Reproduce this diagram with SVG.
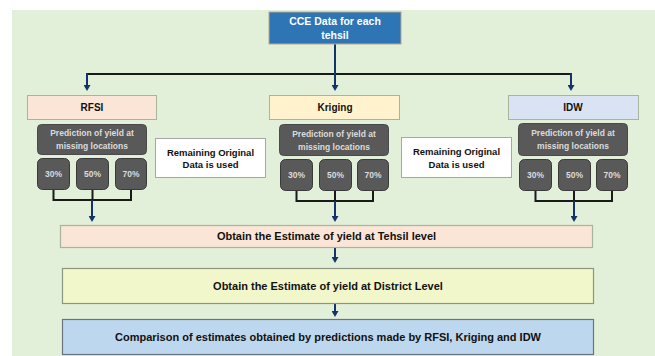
<svg xmlns="http://www.w3.org/2000/svg" width="655" height="356" viewBox="0 0 655 356">
  <defs>
    <marker id="arrow" viewBox="0 0 6 7" markerWidth="6" markerHeight="7" refX="1" refY="3.5" orient="auto" markerUnits="userSpaceOnUse">
      <path d="M0,0 L6,3.5 L0,7 z" fill="#12336b"/>
    </marker>
    <style>
      text { font-family: "Liberation Sans", Arial, sans-serif; font-weight: bold; text-anchor: middle; }
      .method { stroke: #a7b69a; stroke-width: 1; }
      .pred { fill: #595959; stroke: #4a4a4a; stroke-width: 1; }
      .pct { fill: #595959; stroke: #3a3a3a; stroke-width: 1; }
      .light { fill: #dcdcdc; font-size: 8.5px; }
      .dark { fill: #111; }
      .flow { fill: none; stroke: #12336b; stroke-width: 2; }
      .join { fill: none; stroke: #1a1a1a; stroke-width: 2; }
      .note { fill: #ffffff; stroke: #a6a6a6; stroke-width: 1; }
    </style>
  </defs>

  <!-- backdrop -->
  <rect x="12" y="10" width="643" height="346" fill="#e2efd9"/>

  <!-- connectors -->
  <g id="connectors">
    <line class="join" x1="87" y1="74" x2="571" y2="74"/>
    <line class="flow" x1="335" y1="44" x2="335" y2="86" marker-end="url(#arrow)"/>
    <line class="flow" x1="87" y1="73" x2="87" y2="86" marker-end="url(#arrow)"/>
    <line class="flow" x1="571" y1="73" x2="571" y2="86" marker-end="url(#arrow)"/>

    <path class="join" d="M53.5,190 V200 H131 V190 M92.5,190 V200"/>
    <path class="join" d="M296.5,191 V201 H373 V191 M335,191 V201"/>
    <path class="join" d="M535.5,191 V201 H612 V191 M574,191 V201"/>

    <line class="flow" x1="92" y1="200" x2="92" y2="217" marker-end="url(#arrow)"/>
    <line class="flow" x1="335" y1="201" x2="335" y2="217" marker-end="url(#arrow)"/>
    <line class="flow" x1="574" y1="201" x2="574" y2="217" marker-end="url(#arrow)"/>

    <line class="flow" x1="335" y1="248" x2="335" y2="258" marker-end="url(#arrow)"/>
    <line class="flow" x1="335" y1="304" x2="335" y2="312" marker-end="url(#arrow)"/>
  </g>

  <!-- source data -->
  <g id="cce-data">
    <rect x="269" y="12" width="132" height="32" fill="#2e75b6" stroke="#b9a98c" stroke-width="1"/>
    <text x="335" y="25" fill="#ffffff" font-size="10.5px">CCE Data for each</text>
    <text x="335" y="39" fill="#ffffff" font-size="10.5px">tehsil</text>
  </g>

  <!-- RFSI column -->
  <g id="rfsi">
    <rect class="method" x="27.5" y="95.5" width="129" height="24" fill="#fbe5d6"/>
    <text class="dark" x="92" y="111" font-size="10px">RFSI</text>
  </g>
  <g id="rfsi-prediction">
    <rect class="pred" x="37.5" y="124.5" width="109" height="30" rx="4"/>
    <text class="light" x="92" y="136">Prediction of yield at</text>
    <text class="light" x="92" y="149">missing locations</text>
  </g>
  <g id="rfsi-30">
    <rect class="pct" x="37.5" y="158.5" width="32" height="31" rx="5"/>
    <text class="light" x="53.5" y="177">30%</text>
  </g>
  <g id="rfsi-50">
    <rect class="pct" x="76.5" y="158.5" width="32" height="31" rx="5"/>
    <text class="light" x="92.5" y="177">50%</text>
  </g>
  <g id="rfsi-70">
    <rect class="pct" x="115.5" y="158.5" width="31" height="31" rx="5"/>
    <text class="light" x="131" y="177">70%</text>
  </g>

  <g id="remaining-1">
    <rect class="note" x="155.5" y="138.5" width="110" height="39"/>
    <text class="dark" x="210.5" y="155.5" font-size="9.5px">Remaining Original</text>
    <text class="dark" x="210.5" y="168" font-size="9.5px">Data is used</text>
  </g>

  <!-- Kriging column -->
  <g id="kriging">
    <rect class="method" x="269.5" y="95.5" width="130" height="24" fill="#fff2cc"/>
    <text class="dark" x="335" y="111" font-size="10px">Kriging</text>
  </g>
  <g id="kriging-prediction">
    <rect class="pred" x="279.5" y="124.5" width="109" height="31" rx="4"/>
    <text class="light" x="334" y="136.5">Prediction of yield at</text>
    <text class="light" x="334" y="149.5">missing locations</text>
  </g>
  <g id="kriging-30">
    <rect class="pct" x="280.5" y="159.5" width="32" height="31" rx="5"/>
    <text class="light" x="296.5" y="178">30%</text>
  </g>
  <g id="kriging-50">
    <rect class="pct" x="319.5" y="159.5" width="32" height="31" rx="5"/>
    <text class="light" x="335.5" y="178">50%</text>
  </g>
  <g id="kriging-70">
    <rect class="pct" x="357.5" y="159.5" width="31" height="31" rx="5"/>
    <text class="light" x="373" y="178">70%</text>
  </g>

  <g id="remaining-2">
    <rect class="note" x="401.5" y="137.5" width="110" height="40"/>
    <text class="dark" x="456.5" y="155" font-size="9.5px">Remaining Original</text>
    <text class="dark" x="456.5" y="167.5" font-size="9.5px">Data is used</text>
  </g>

  <!-- IDW column -->
  <g id="idw">
    <rect class="method" x="508.5" y="95.5" width="130" height="24" fill="#dae3f3"/>
    <text class="dark" x="573" y="111" font-size="10px">IDW</text>
  </g>
  <g id="idw-prediction">
    <rect class="pred" x="518.5" y="123.5" width="109" height="32" rx="4"/>
    <text class="light" x="573" y="136">Prediction of yield at</text>
    <text class="light" x="573" y="149">missing locations</text>
  </g>
  <g id="idw-30">
    <rect class="pct" x="519.5" y="159.5" width="32" height="31" rx="5"/>
    <text class="light" x="535.5" y="178">30%</text>
  </g>
  <g id="idw-50">
    <rect class="pct" x="558.5" y="159.5" width="32" height="31" rx="5"/>
    <text class="light" x="574.5" y="178">50%</text>
  </g>
  <g id="idw-70">
    <rect class="pct" x="596.5" y="159.5" width="31" height="31" rx="5"/>
    <text class="light" x="612" y="178">70%</text>
  </g>

  <!-- estimation steps -->
  <g id="tehsil-estimate">
    <rect x="60.5" y="225.5" width="532" height="22" fill="#fbe5d6" stroke="#a7b69a" stroke-width="1.2"/>
    <text class="dark" x="326.5" y="240" font-size="11px">Obtain the Estimate of yield at Tehsil level</text>
  </g>
  <g id="district-estimate">
    <rect x="62.5" y="268.5" width="531" height="35" fill="#f2f7cb" stroke="#8c9580" stroke-width="1.2"/>
    <text class="dark" x="328" y="290" font-size="11px">Obtain the Estimate of yield at District Level</text>
  </g>
  <g id="comparison">
    <rect x="62.5" y="319.5" width="531" height="35" fill="#bdd7ee" stroke="#6a7480" stroke-width="1.2"/>
    <text class="dark" x="328" y="341" font-size="11px">Comparison of estimates obtained by predictions made by RFSI, Kriging and IDW</text>
  </g>
</svg>
